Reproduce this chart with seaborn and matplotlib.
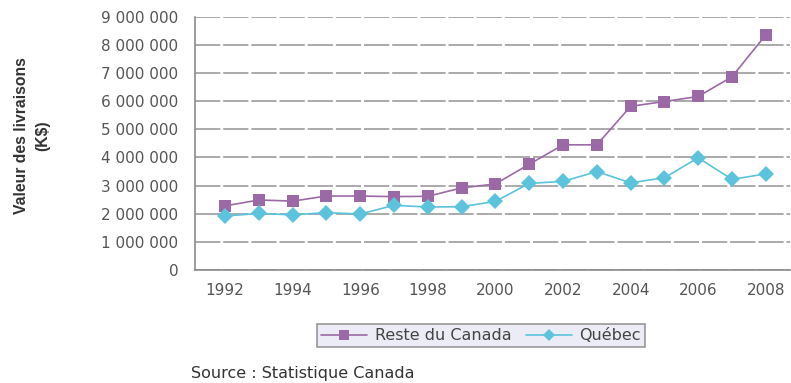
import numpy as np
import pandas as pd
import matplotlib
matplotlib.use("Agg")
import matplotlib.pyplot as plt
from matplotlib.lines import Line2D
import seaborn as sns

years = list(range(1992, 2009))
reste_du_canada = [2280000, 2490000, 2450000, 2630000, 2630000, 2610000, 2620000, 2920000,
                   3060000, 3760000, 4450000, 4450000, 5820000, 5990000, 6170000, 6870000, 8360000]
quebec = [1920000, 2010000, 1960000, 2040000, 1990000, 2300000, 2240000, 2250000,
          2440000, 3080000, 3150000, 3500000, 3100000, 3280000, 3990000, 3220000, 3420000]
series_names = ["Reste du Canada", "Québec"]
y_ticks = list(range(0, 9000001, 1000000))
x_tick_labels = list(range(1992, 2009, 2))

df = pd.DataFrame({
    "Année": years * 2,
    "Valeur": reste_du_canada + quebec,
    "Série": [series_names[0]] * len(years) + [series_names[1]] * len(years),
})

sns.set_style("white")
plt.rcParams["font.family"] = ["DejaVu Sans"]

fig = plt.figure(figsize=(7.91, 3.83), dpi=100)
ax = fig.add_axes([0.2465, 0.295, 0.752, 0.661])

palette = {series_names[0]: "#9b6aa6", series_names[1]: "#5bc3dc"}
sns.lineplot(data=df, x="Année", y="Valeur", hue="Série", style="Série",
             markers={series_names[0]: "s", series_names[1]: "D"},
             dashes=False, palette=palette, linewidth=1.2,
             markersize=8, markeredgewidth=0, ax=ax, legend=False)

ax.set_xlim(1991.11, 2008.71)
ax.set_ylim(0, 9000000)
ax.set_yticks(y_ticks)
ax.set_yticklabels([f"{v:,}".replace(",", " ") for v in y_ticks])
ax.set_xticks(years, minor=True)
ax.set_xticks(x_tick_labels)
ax.set_xticklabels([str(y) for y in x_tick_labels])

ax.yaxis.grid(True, color="#a4a4a4", linewidth=1.3, linestyle=(0, (14, 1.6)))
ax.set_axisbelow(True)

for side in ["top", "right"]:
    ax.spines[side].set_visible(False)
for side in ["left", "bottom"]:
    ax.spines[side].set_color("#8a8a8a")
    ax.spines[side].set_linewidth(1.2)

ax.tick_params(axis="both", which="both", direction="out", color="#8a8a8a",
               labelcolor="#555555", labelsize=11)
ax.tick_params(axis="x", which="both", length=5, width=1, pad=4)
ax.tick_params(axis="y", length=5, width=1, pad=7)
ax.tick_params(axis="x", which="minor", labelbottom=False)

ax.set_xlabel("")
ax.set_ylabel("Valeur des livraisons\n(K$)", fontsize=11.3, fontweight="bold",
              color="#333333", family=["Liberation Sans"], linespacing=1.45)
ax.yaxis.set_label_coords(-0.244, 0.53)

handles = [
    Line2D([], [], color=palette[series_names[0]], marker="s", markersize=7,
           markeredgewidth=0, linewidth=1.2),
    Line2D([], [], color=palette[series_names[1]], marker="D", markersize=6,
           markeredgewidth=0, linewidth=1.2),
]
leg = fig.legend(handles, series_names, loc="center", bbox_to_anchor=(0.608, 0.123),
                 ncol=2, frameon=True, fancybox=False, fontsize=11.5,
                 handlelength=2.9, columnspacing=0.9, handletextpad=0.45,
                 borderpad=0.25, borderaxespad=0.0)
leg.get_frame().set_facecolor("#e8e8f4")
leg.get_frame().set_edgecolor("#808080")
leg.get_frame().set_linewidth(1.2)
for t in leg.get_texts():
    t.set_color("#444444")

fig.text(0.242, 0.0235, "Source : Statistique Canada", fontsize=11.5, color="#333333",
         va="center")

fig.savefig("out.png", dpi=100)
